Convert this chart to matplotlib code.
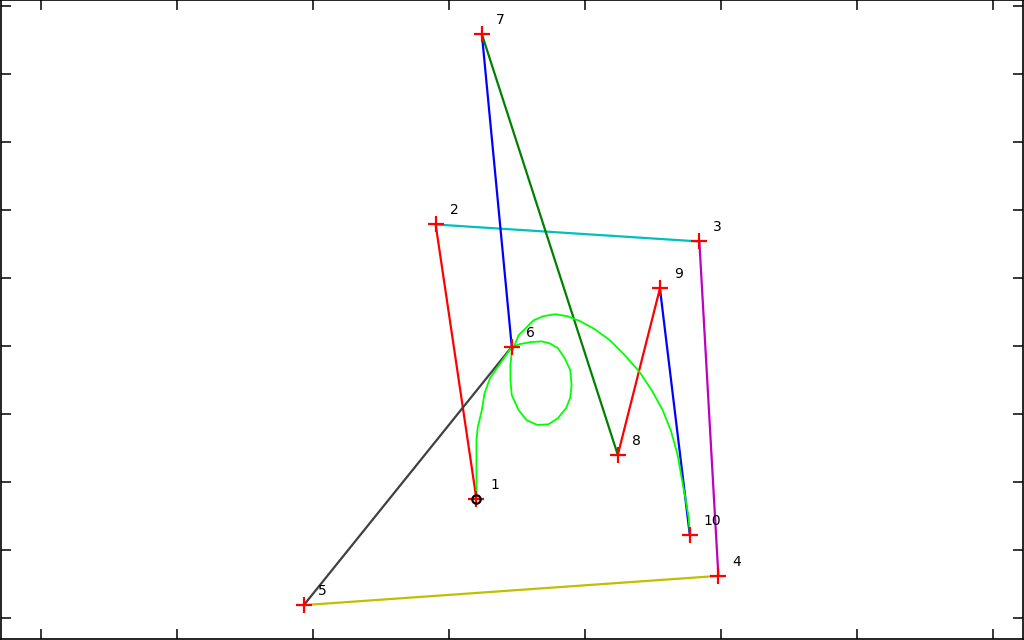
import matplotlib
matplotlib.use('Agg')
import matplotlib.pyplot as plt

# control points (numbered 1..10)
pt_x = [3.20, 2.90, 4.84, 4.98, 1.93, 3.46, 3.24, 4.24, 4.55, 4.77]
pt_y = [1.75, 5.79, 5.54, 0.62, 0.19, 3.99, 8.59, 2.40, 4.85, 1.22]
pt_labels = ['1', '2', '3', '4', '5', '6', '7', '8', '9', '10']

# colour of segment i -> i+1 (MATLAB-like colour order)
seg_colors = ['#ff0000', '#00bfbf', '#bf00bf', '#bfbf00', '#404040',
              '#0000ff', '#008000', '#ff0000', '#0000ff']

# freehand green curve
curve_x = [3.20, 3.20, 3.20, 3.21, 3.24, 3.26, 3.30, 3.38, 3.46, 3.52, 3.60,
           3.68, 3.74, 3.80, 3.85, 3.89, 3.90, 3.89, 3.86, 3.80, 3.73, 3.65,
           3.57, 3.51, 3.46, 3.45, 3.45, 3.46, 3.51, 3.56, 3.62, 3.69, 3.78,
           3.87, 3.96, 4.07, 4.18, 4.29, 4.40, 4.49, 4.57, 4.63, 4.68, 4.71,
           4.74, 4.76, 4.77]
curve_y = [1.75, 2.18, 2.62, 2.81, 3.06, 3.31, 3.53, 3.76, 3.99, 4.03, 4.06,
           4.07, 4.04, 3.97, 3.82, 3.65, 3.43, 3.24, 3.09, 2.94, 2.85, 2.84,
           2.91, 3.06, 3.28, 3.50, 3.72, 3.91, 4.16, 4.26, 4.38, 4.44, 4.47,
           4.44, 4.37, 4.25, 4.09, 3.87, 3.62, 3.35, 3.06, 2.76, 2.40, 2.06,
           1.74, 1.49, 1.26]

fig = plt.figure(figsize=(10.24, 6.4), dpi=100)
ax = fig.add_axes([0.0005, 0.0015, 0.9985, 0.998])

for i, c in enumerate(seg_colors):
    ax.plot(pt_x[i:i + 2], pt_y[i:i + 2], color=c, lw=1.6, zorder=2)

ax.plot(curve_x, curve_y, color='#00ff00', lw=1.3, zorder=3)

ax.plot(pt_x, pt_y, ls='none', marker='+', color='#ff0000', ms=11, mew=1.6, zorder=4)
ax.plot(pt_x[0], pt_y[0], ls='none', marker='o', mfc='none', mec='black', ms=6, mew=1.6, zorder=5)

for x, y, s in zip(pt_x, pt_y, pt_labels):
    ax.annotate(s, (x, y), xytext=(14, 14), textcoords='offset pixels',
                ha='left', va='center', fontsize=10, color='black')

ax.set_xlim(-0.3015, 7.221)
ax.set_ylim(-0.309, 9.088)
ax.set_xticks(range(8))
ax.set_yticks(range(10))
ax.tick_params(direction='in', length=7.5, width=1.1, top=True, right=True,
               labelbottom=False, labelleft=False)
for sp in ax.spines.values():
    sp.set_linewidth(1.2)

fig.savefig('out.png', dpi=100)
